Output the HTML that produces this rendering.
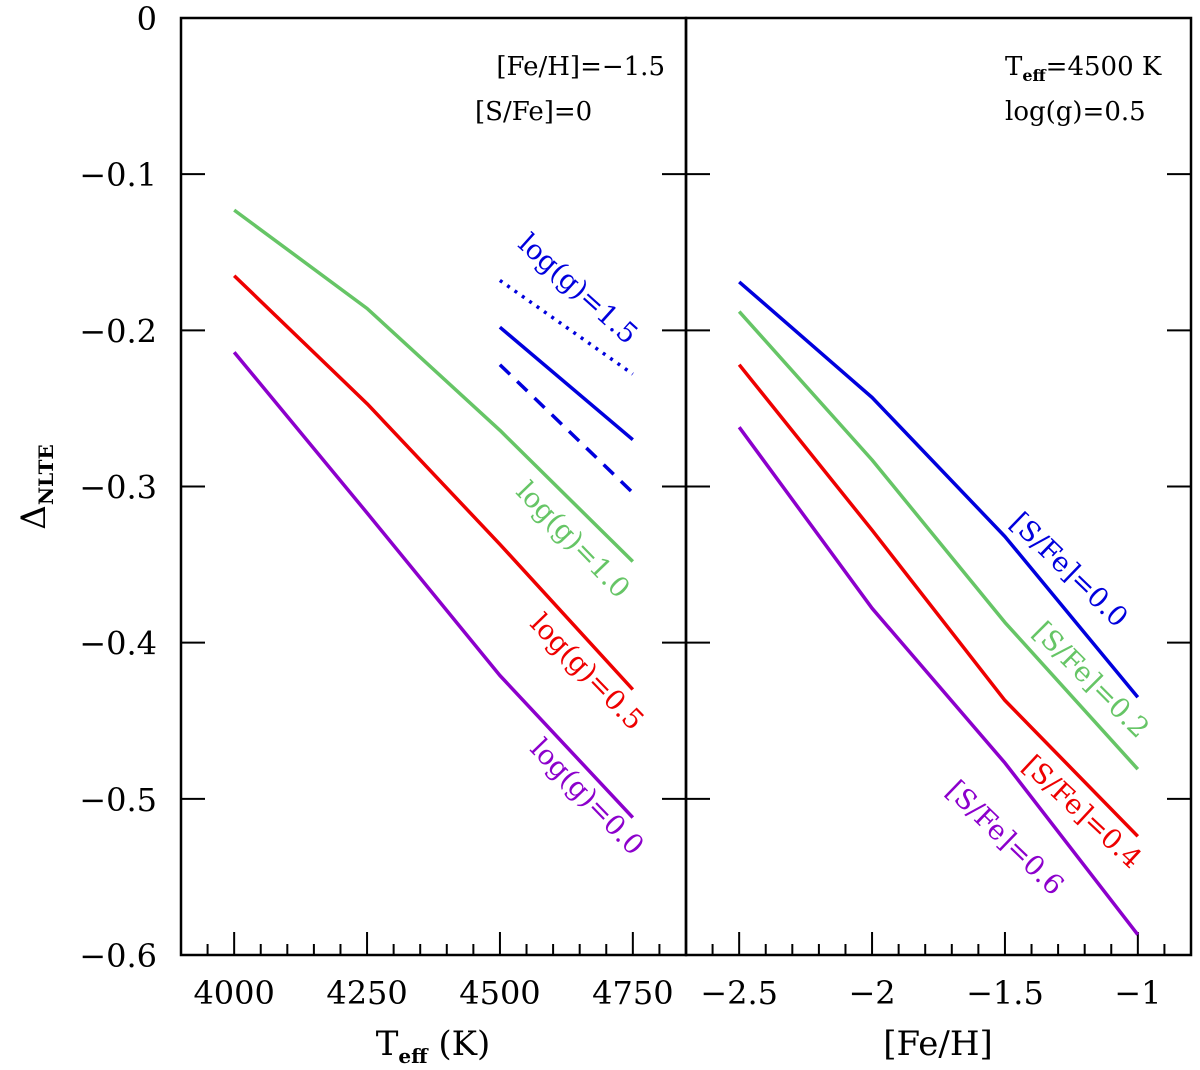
<!DOCTYPE html>
<html><head><meta charset="utf-8"><style>
body{margin:0;background:#fff}
svg text{font-family:"DejaVu Serif","Liberation Serif",serif}
</style></head><body>
<svg id="chart" width="1200" height="1065" xmlns="http://www.w3.org/2000/svg">
<g id="g"></g>
</svg>
<script>
const tempCats=[4000,4250,4500,4750];
const logg10=[-0.123,-0.186,-0.264,-0.348];
const logg05=[-0.165,-0.247,-0.337,-0.430];
const logg00=[-0.214,-0.317,-0.421,-0.512];
const blueTemps=[4500,4750];
const logg15solid=[-0.198,-0.270];
const logg15dot=[-0.168,-0.228];
const logg15dash=[-0.222,-0.304];
const fehCats=[-2.5,-2,-1.5,-1];
const sfe00=[-0.169,-0.243,-0.332,-0.435];
const sfe02=[-0.188,-0.283,-0.387,-0.481];
const sfe04=[-0.222,-0.328,-0.437,-0.524];
const sfe06=[-0.262,-0.378,-0.477,-0.587];
const yTicks=[0,-0.1,-0.2,-0.3,-0.4,-0.5,-0.6];
const yTickLabels=["0","\u22120.1","\u22120.2","\u22120.3","\u22120.4","\u22120.5","\u22120.6"];
const tTicks=[4000,4250,4500,4750];
const fTicks=[-2.5,-2,-1.5,-1];
const fTickLabels=["\u22122.5","\u22122","\u22121.5","\u22121"];

const NS="http://www.w3.org/2000/svg";
const g=document.getElementById('g');
const L0=181,L1=686,R0=686,R1=1191,Y0=18,Y1=955;
const yS=v=>Y0+(0-v)/0.6*(Y1-Y0);
const xT=v=>L0+(v-3900)/950*(L1-L0);
const xF=v=>R0+(v+2.7)/1.9*(R1-R0);
function mk(tag,attrs,parent){const e=document.createElementNS(NS,tag);for(const k in attrs)e.setAttribute(k,attrs[k]);(parent||g).appendChild(e);return e;}
function txt(s,x,y,attrs){const e=mk('text',Object.assign({x:x,y:y},attrs||{}));e.innerHTML=s;return e;}

const f1=mk('rect',{x:L0,y:Y0,width:L1-L0,height:Y1-Y0,fill:'none',stroke:'#000','stroke-width':2.5});


const f2=mk('rect',{x:R0,y:Y0,width:R1-R0,height:Y1-Y0,fill:'none',stroke:'#000','stroke-width':2.5});



yTicks.forEach((v,i)=>{const y=yS(v);
 [[L0,1],[L1,-1],[R0,1],[R1,-1]].forEach(([x,d])=>{const t=mk('line',{x1:x,x2:x+d*24,y1:y,y2:y,stroke:'#000','stroke-width':2});
 
 });
 const l=txt(yTickLabels[i],157,y+12,{'font-size':32,'text-anchor':'end'});
 
 
});
for(let v=3950;v<4850;v+=50){const x=xT(v);const maj=v%250===0;
 const t=mk('line',{x1:x,x2:x,y1:Y1,y2:Y1-(maj?23:11),stroke:'#000','stroke-width':2});
 
 }
tTicks.forEach(v=>{const l=txt(String(v),xT(v),1004,{'font-size':32,'text-anchor':'middle'});
 
 });
for(let k=-26;k<=-9;k++){const v=k/10;const x=xF(v);const maj=(k%5===0);
 const t=mk('line',{x1:x,x2:x,y1:Y1,y2:Y1-(maj?23:11),stroke:'#000','stroke-width':2});
 
 }
fTicks.forEach((v,i)=>{const l=txt(fTickLabels[i],xF(v),1004,{'font-size':32,'text-anchor':'middle'});
 
 });

let a=txt('T<tspan font-size="20" font-weight="bold" dy="8">eff</tspan><tspan dy="-8"> (K)</tspan>',433,1055,{'font-size':34,'text-anchor':'middle'});


a=txt('[Fe/H]',938,1055,{'font-size':34,'text-anchor':'middle'});


a=txt('\u0394<tspan font-size="20" font-weight="bold" dy="8">NLTE</tspan>',0,0,{'font-size':34,'text-anchor':'middle',transform:'translate(45,487) rotate(-90)'});



a=txt('[Fe/H]=\u22121.5',665,75,{'font-size':26,'text-anchor':'end'});


a=txt('[S/Fe]=0',475,120,{'font-size':26});


a=txt('T<tspan font-size="16" font-weight="bold" dy="6">eff</tspan><tspan dy="-6">=4500 K</tspan>',1005,75,{'font-size':26});


a=txt('log(g)=0.5',1005,120,{'font-size':26});



function series(xs,ys,xf,color,name,dash){
 const pts=xs.map((x,i)=>xf(x).toFixed(1)+','+yS(ys[i]).toFixed(1)).join(' ');
 const p=mk('polyline',{points:pts,fill:'none',stroke:color,'stroke-width':3.5,'stroke-linejoin':'round'});
 if(dash)p.setAttribute('stroke-dasharray',dash);
 
 
}
const BL='#0000dd',GR='#66c566',RD='#ee0000',PU='#8c00cc';
series(tempCats,logg10,xT,GR,'line-logg-1.0');
series(tempCats,logg05,xT,RD,'line-logg-0.5');
series(tempCats,logg00,xT,PU,'line-logg-0.0');
series(blueTemps,logg15solid,xT,BL,'line-logg-1.5-solid');
series(blueTemps,logg15dot,xT,BL,'line-logg-1.5-dotted','3,6');
series(blueTemps,logg15dash,xT,BL,'line-logg-1.5-dashed','14,10');
series(fehCats,sfe00,xF,BL,'line-sfe-0.0');
series(fehCats,sfe02,xF,GR,'line-sfe-0.2');
series(fehCats,sfe04,xF,RD,'line-sfe-0.4');
series(fehCats,sfe06,xF,PU,'line-sfe-0.6');

function lab(s,x,y,ang,color,name){const e=txt(s,0,0,{'font-size':27.5,'text-anchor':'middle','dominant-baseline':'central',fill:color,transform:`translate(${x},${y}) rotate(${ang})`});
 
 }
lab('log(g)=1.5',578,289,42,BL,'label-logg-1.5');
lab('log(g)=1.0',573,540,46,GR,'label-logg-1.0');
lab('log(g)=0.5',587,672,46,RD,'label-logg-0.5');
lab('log(g)=0.0',587,797,46,PU,'label-logg-0.0');
lab('[S/Fe]=0.0',1069,570,44,BL,'label-sfe-0.0');
lab('[S/Fe]=0.2',1091,680,45,GR,'label-sfe-0.2');
lab('[S/Fe]=0.4',1082,812,43,RD,'label-sfe-0.4');
lab('[S/Fe]=0.6',1005,838,44,PU,'label-sfe-0.6');
</script>
</body></html>
